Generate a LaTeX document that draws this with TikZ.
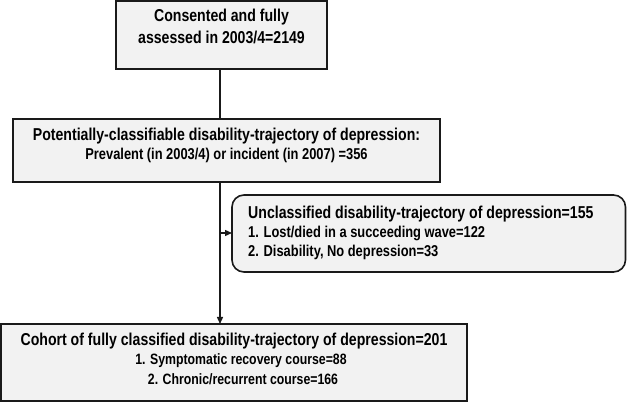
\documentclass[tikz,border=0pt]{standalone}
\usepackage{fontspec}
\setmainfont{Liberation Sans}[FakeStretch=0.82]
\usetikzlibrary{arrows.meta}
\definecolor{boxfill}{HTML}{F2F2F2}
\definecolor{boxline}{HTML}{1A1A1A}
\tikzset{
  box/.style={draw=boxline, fill=boxfill, line width=1.6pt},
  conn/.style={draw=boxline, line width=1.4pt},
  tip/.style={-{Triangle[length=7pt,width=6pt]}},
  big/.style={font=\bfseries\fontsize{17.2}{20}\selectfont, inner sep=0pt},
  small/.style={font=\bfseries\fontsize{15.7}{19}\selectfont, inner sep=0pt},
  smaller/.style={font=\bfseries\fontsize{15}{19}\selectfont, inner sep=0pt},
}
\begin{document}
\begin{tikzpicture}[x=1pt,y=-1pt]
\useasboundingbox (0,0) rectangle (627,403);
% boxes
\path[box] (116,0.8) rectangle (327,69);
\coordinate (b1s) at (220,69);
\path[box] (13,119) rectangle (440,182);
\coordinate (b2n) at (220,119);
\coordinate (b2s) at (220,182);
\path[box, rounded corners=12pt] (232,195) rectangle (625.5,272);
\coordinate (b3w) at (232,233);
\path[box] (1,324) rectangle (467,401);
\coordinate (b4n) at (220,324);
\coordinate (br) at (220,233);
% texts
\node[big] (t1a) at (221.5,17) {Consented and fully};
\node[big] (t1b) at (221.5,37) {assessed in 2003/4=2149};
\node[big] (t2a) at (226.5,136) {Potentially-classifiable disability-trajectory of depression:};
\node[small] (t2b) at (226.5,155) {Prevalent (in 2003/4) or incident (in 2007) =356};
\node[big, anchor=west] (t3a) at (248,214) {Unclassified disability-trajectory of depression=155};
\node[small, anchor=west] (t3b) at (248,233) {1. Lost/died in a succeeding wave=122};
\node[small, anchor=west] (t3c) at (248,252) {2. Disability, No depression=33};
\node[big] (t4a) at (234,341) {Cohort of fully classified disability-trajectory of depression=201};
\node[smaller] (t4b) at (241,361) {1. Symptomatic recovery course=88};
\node[smaller] (t4c) at (243,379) {2. Chronic/recurrent course=166};
% connectors
\draw[conn] (b1s) -- (b2n);
\draw[conn, tip] (b2s) -- (b4n);
\draw[conn, tip] (br) -- (b3w);
\end{tikzpicture}
\end{document}
